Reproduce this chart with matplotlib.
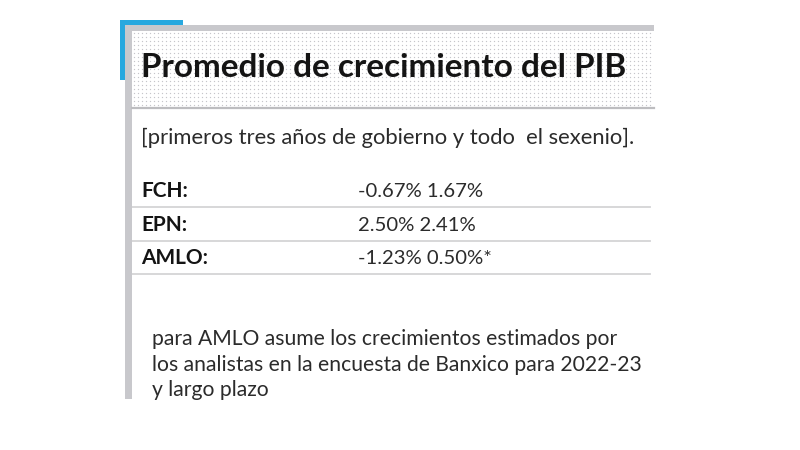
import matplotlib.pyplot as plt
from matplotlib.patches import Rectangle
import numpy as np

# data
presidentes = ["FCH:", "EPN:", "AMLO:"]
tres_anios = [-0.67, 2.50, -1.23]      # primeros tres años de gobierno
sexenio = [1.67, 2.41, 0.50]           # todo el sexenio
notas = ["", "", "*"]

titulo = "Promedio de crecimiento del PIB"
subtitulo = "[primeros tres años de gobierno y todo  el sexenio]."
nota_pie = ["para AMLO asume los crecimientos estimados por",
            "los analistas en la encuesta de Banxico para 2022-23",
            "y largo plazo"]

BLUE = "#27a8df"
FRAME = "#c8c8cc"
RULE = "#d4d4d6"
INK = "#141414"
SOFT = "#2b2b2b"
BOLD = dict(fontfamily="Lato", fontweight="bold", color=INK)
THIN = dict(fontfamily="Lato", fontweight="normal", color=SOFT)

fig = plt.figure(figsize=(8, 4.5), dpi=100)
ax = fig.add_axes([0, 0, 1, 1])
ax.set_xlim(0, 800)
ax.set_ylim(450, 0)
ax.axis("off")
renderer = fig.canvas.get_renderer()


def fit_size(s, width, size=15, **kw):
    # font size that makes s span the wanted pixel width
    t = ax.text(0, 0, s, fontsize=size, **kw)
    w = t.get_window_extent(renderer).width
    t.remove()
    return size * width / w


# blue accent corner
ax.add_patch(Rectangle((120, 20), 63, 5, color=BLUE, lw=0, zorder=2))
ax.add_patch(Rectangle((120, 20), 5, 60, color=BLUE, lw=0, zorder=2))

# gray frame
ax.add_patch(Rectangle((125, 25), 529, 6, color=FRAME, lw=0, zorder=3))
ax.add_patch(Rectangle((125, 25), 7, 374, color=FRAME, lw=0, zorder=3))

# dotted title band
gx, gy = np.meshgrid(np.arange(134, 654, 4), np.arange(33, 107, 4))
ax.scatter(gx.ravel(), gy.ravel(), s=0.9, color="#c6c6ca", lw=0, zorder=1)
ax.plot([132, 654], [108, 108], color="#bdbdc0", lw=1.6, zorder=3)

ax.text(141, 77, titulo, va="baseline", zorder=4,
        fontsize=fit_size(titulo, 489, **BOLD), **BOLD)
ax.text(141, 144, subtitulo, va="baseline",
        fontsize=fit_size(subtitulo, 494, **THIN), **THIN)

# table rows
baselines = [197, 231, 264]
rules = [207, 241, 274]
lbl_size = fit_size(presidentes[0], 47, **BOLD)
valores = [f"{a:.2f}% {b:.2f}%{n}" for a, b, n in zip(tres_anios, sexenio, notas)]
val_size = fit_size(valores[0], 125, **THIN)
for i, name in enumerate(presidentes):
    ax.text(141, baselines[i], name, va="baseline", fontsize=lbl_size, **BOLD)
    ax.text(358, baselines[i], valores[i], va="baseline", fontsize=val_size, **THIN)
    ax.plot([132, 650], [rules[i], rules[i]], color=RULE, lw=1.3)

# footnote
foot_base = [345, 371, 396]
fsize = fit_size(nota_pie[1], 490, **THIN)
for i, line in enumerate(nota_pie):
    ax.text(152, foot_base[i], line, va="baseline", fontsize=fsize, **THIN)

fig.savefig("out.png", dpi=100)
